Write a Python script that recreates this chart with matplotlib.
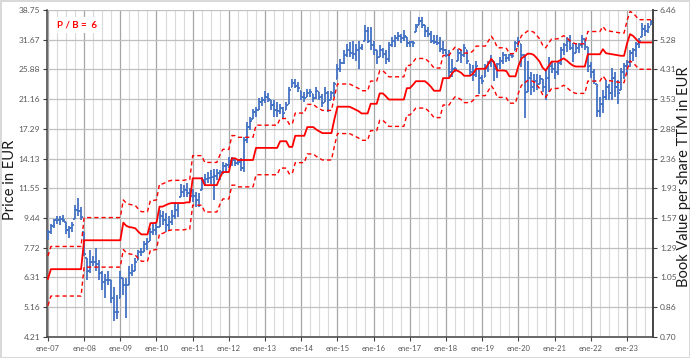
import numpy as np
import matplotlib
matplotlib.use("Agg")
import matplotlib.pyplot as plt
from matplotlib.ticker import FixedLocator, NullLocator, NullFormatter

plt.rcParams["font.family"] = ["Lato", "DejaVu Sans"]

BLUE = "#4472C4"
RED = "#FF0000"

PB_CENTER = 6
PB_LOW, PB_HIGH = 5, 7

# monthly bars, ene-07 .. sep-23 (one row per year)
highs = [
    8.7, 9.05, 9.4, 9.6, 9.55, 9.65, 9.2, 8.95, 9.2, 10.3, 10.85, 10.2,
    8.6, 7.2, 7.6, 7.3, 7.7, 7.1, 6.6, 6.45, 6.6, 6.2, 5.9, 5.6,
    6.6, 6.3, 6.3, 6.8, 6.9, 7.2, 7.6, 7.7, 8.1, 8.25, 8.85, 9.1,
    9.1, 10.0, 9.9, 9.8, 9.6, 10.0, 10.5, 10.4, 11.9, 11.8, 12.0, 11.6,
    11.5, 11.3, 11.2, 12.5, 12.7, 12.9, 13.1, 13.2, 13.2, 13.1, 13.8, 13.7,
    14.3, 14.3, 14.1, 14.0, 14.2, 16.4, 18.1, 18.7, 19.8, 20.0, 21.3, 21.4,
    22.3, 22.0, 21.0, 21.0, 20.7, 20.5, 20.0, 20.7, 22.9, 24.3, 24.3, 23.8,
    22.4, 22.2, 22.7, 22.7, 21.9, 23.0, 22.2, 21.9, 22.9, 22.4, 22.4, 23.8,
    26.9, 27.8, 29.5, 30.8, 31.2, 31.5, 30.8, 31.5, 30.8, 34.9, 34.5, 34.5,
    31.5, 29.5, 30.5, 30.0, 29.5, 31.2, 32.3, 32.6, 33.4, 33.0, 33.8, 32.3,
    31.5, 31.5, 35.3, 37.0, 37.0, 34.9, 34.5, 33.5, 32.6, 32.6, 32.3, 31.5,
    29.8, 29.5, 27.8, 26.3, 29.8, 29.5, 30.8, 29.5, 26.9, 26.6, 27.5, 25.7,
    24.9, 26.9, 27.5, 28.5, 27.5, 27.0, 28.2, 29.1, 28.8, 28.8, 28.8, 31.5,
    32.3, 30.8, 28.5, 27.5, 25.4, 25.1, 25.1, 24.9, 24.3, 26.0, 28.2, 27.3,
    27.0, 27.5, 30.2, 31.0, 32.3, 32.7, 30.9, 30.9, 30.9, 32.7, 31.9, 30.2,
    27.3, 26.0, 23.5, 21.5, 22.5, 24.1, 23.5, 26.1, 25.5, 24.1, 26.1, 27.0,
    27.6, 29.5, 30.0, 31.2, 32.0, 35.4, 35.0, 35.4, 36.2,
]
lows = [
    8.15, 8.45, 8.8, 9.05, 9.0, 9.2, 8.45, 8.25, 8.6, 9.4, 9.6, 9.3,
    7.3, 6.2, 6.5, 6.8, 6.6, 6.2, 5.8, 5.5, 6.0, 5.3, 4.7, 4.75,
    5.5, 5.6, 4.8, 6.0, 6.35, 6.6, 7.1, 7.3, 7.5, 7.6, 8.1, 8.4,
    8.4, 8.9, 9.0, 8.6, 8.7, 9.0, 9.4, 9.5, 10.9, 10.9, 10.9, 10.6,
    10.5, 10.2, 10.2, 11.4, 11.7, 12.0, 11.9, 10.7, 12.2, 12.2, 12.7, 12.8,
    13.3, 13.4, 13.4, 13.5, 13.0, 12.9, 15.7, 17.2, 18.5, 18.7, 19.7, 20.2,
    20.6, 20.8, 19.6, 18.7, 18.7, 19.1, 18.5, 19.6, 20.5, 22.9, 22.8, 22.2,
    21.0, 20.7, 21.4, 21.5, 20.7, 21.2, 21.0, 20.0, 20.7, 19.4, 21.0, 21.4,
    24.3, 25.4, 26.9, 28.2, 28.2, 27.8, 27.5, 26.0, 29.5, 31.5, 31.0, 29.5,
    28.5, 26.9, 28.2, 28.0, 26.9, 27.2, 30.1, 30.1, 31.5, 31.0, 31.5, 30.1,
    30.1, 30.1, 33.4, 35.0, 34.2, 32.3, 32.3, 31.0, 30.8, 30.5, 29.1, 28.8,
    28.2, 24.6, 24.6, 25.4, 27.5, 27.0, 28.2, 26.9, 24.9, 24.0, 24.6, 21.9,
    23.5, 24.6, 25.5, 26.3, 24.0, 24.5, 26.0, 26.9, 27.2, 27.4, 28.0, 29.5,
    30.1, 26.3, 18.6, 22.2, 21.7, 22.2, 22.5, 23.5, 22.2, 21.0, 22.2, 25.2,
    24.3, 25.0, 26.6, 28.5, 29.2, 29.5, 27.3, 28.9, 28.9, 29.9, 29.5, 25.5,
    24.5, 23.5, 18.7, 18.7, 19.2, 21.0, 21.0, 21.0, 21.5, 20.5, 22.5, 24.3,
    25.0, 26.4, 27.5, 28.2, 30.0, 32.3, 32.5, 33.1, 35.0,
]
closes = [
    8.6, 8.95, 9.3, 9.3, 9.4, 9.3, 8.7, 8.8, 9.0, 10.0, 9.9, 9.5,
    7.4, 6.6, 7.0, 7.0, 6.9, 6.5, 6.1, 6.2, 6.2, 5.5, 5.0, 5.0,
    6.3, 6.0, 6.0, 6.5, 6.6, 7.0, 7.5, 7.5, 7.9, 8.0, 8.6, 8.7,
    8.9, 9.6, 9.3, 9.0, 9.2, 9.6, 10.0, 10.2, 11.3, 11.4, 11.2, 11.0,
    11.0, 10.7, 10.9, 12.2, 12.3, 12.4, 12.5, 12.6, 12.8, 12.9, 13.4, 13.5,
    13.9, 14.0, 13.7, 13.8, 13.3, 16.0, 17.5, 18.3, 19.4, 19.6, 20.8, 21.0,
    21.5, 21.2, 20.3, 19.7, 19.5, 19.9, 19.3, 20.4, 22.5, 23.6, 23.2, 22.8,
    21.5, 21.3, 22.0, 22.2, 21.3, 22.4, 21.5, 20.6, 22.0, 21.0, 22.0, 23.4,
    26.0, 27.0, 28.6, 29.5, 29.0, 28.8, 29.5, 30.0, 30.2, 33.5, 31.5, 30.5,
    29.5, 28.0, 29.5, 28.8, 27.8, 30.5, 31.5, 32.0, 32.5, 32.0, 32.5, 31.0,
    31.2, 31.0, 34.5, 36.0, 35.0, 33.5, 33.0, 31.5, 31.2, 31.0, 29.8, 29.5,
    28.6, 25.5, 26.0, 26.0, 29.0, 28.5, 30.0, 27.5, 25.5, 24.9, 26.5, 24.5,
    24.0, 26.2, 27.0, 27.5, 26.0, 26.8, 27.5, 28.5, 28.0, 28.5, 28.3, 31.0,
    31.5, 28.5, 22.0, 24.5, 23.0, 24.0, 23.5, 24.3, 23.0, 24.5, 26.5, 26.0,
    25.5, 27.0, 29.5, 30.5, 31.5, 30.0, 28.5, 30.0, 30.5, 31.8, 30.5, 26.5,
    25.5, 24.0, 19.5, 20.5, 21.5, 23.0, 22.0, 24.5, 23.0, 22.0, 25.5, 26.5,
    27.2, 29.0, 29.5, 30.8, 31.5, 34.0, 33.5, 34.5, 35.8,
]

# book value per share TTM (EUR)
bvps = [
    1.042, 1.112, 1.112, 1.112, 1.112, 1.112, 1.112, 1.112, 1.112, 1.112, 1.112, 1.112,
    1.353, 1.353, 1.353, 1.353, 1.353, 1.353, 1.353, 1.353, 1.353, 1.353, 1.353, 1.353,
    1.353, 1.525, 1.492, 1.48, 1.475, 1.467, 1.433, 1.408, 1.408, 1.408, 1.52, 1.52,
    1.525, 1.70, 1.70, 1.717, 1.733, 1.742, 1.742, 1.742, 1.742, 1.742, 1.75, 1.75,
    2.06, 2.06, 2.06, 2.06, 1.967, 1.967, 1.967, 1.967, 1.967, 2.067, 2.15, 2.15,
    2.15, 2.36, 2.36, 2.333, 2.333, 2.333, 2.333, 2.333, 2.333, 2.533, 2.533, 2.533,
    2.533, 2.533, 2.533, 2.533, 2.533, 2.65, 2.65, 2.65, 2.55, 2.55, 2.75, 2.75,
    2.75, 2.75, 2.917, 2.917, 2.917, 2.867, 2.833, 2.8, 2.8, 2.8, 2.8, 3.083,
    3.35, 3.35, 3.35, 3.35, 3.35, 3.317, 3.283, 3.25, 3.2, 3.2, 3.2, 3.417,
    3.417, 3.417, 3.667, 3.667, 3.6, 3.517, 3.517, 3.517, 3.517, 3.517, 3.517, 3.8,
    3.8, 3.883, 3.983, 3.983, 3.983, 3.983, 3.917, 3.833, 3.733, 3.733, 3.733, 4.067,
    4.067, 4.067, 4.2, 4.3, 4.267, 4.217, 4.133, 4.133, 4.133, 4.2, 4.333, 4.333,
    4.333, 4.333, 4.483, 4.633, 4.5, 4.283, 4.283, 4.283, 4.267, 4.117, 4.117, 4.117,
    4.417, 4.65, 4.717, 4.8, 4.8, 4.767, 4.667, 4.55, 4.367, 4.283, 4.417, 4.55,
    4.55, 4.55, 4.6, 4.65, 4.583, 4.5, 4.433, 4.4, 4.4, 4.4, 4.4, 4.783,
    4.783, 4.783, 4.783, 4.783, 4.95, 4.817, 4.8, 4.783, 4.767, 4.75, 4.733, 4.733,
    5.15, 5.483, 5.417, 5.3, 5.183, 5.183, 5.183, 5.183, 5.183,
]

price_ticks = [4.21, 5.16, 6.31, 7.72, 9.44, 11.55, 14.13, 17.29, 21.16, 25.88, 31.67, 38.75]
bv_tick_labels = ["0.70", "0.86", "1.05", "1.29", "1.57", "1.93", "2.36", "2.88",
                  "3.53", "4.31", "5.28", "6.46"]
year_labels = ["ene-07", "ene-08", "ene-09", "ene-10", "ene-11", "ene-12", "ene-13",
               "ene-14", "ene-15", "ene-16", "ene-17", "ene-18", "ene-19", "ene-20",
               "ene-21", "ene-22", "ene-23"]

highs = np.array(highs)
lows = np.array(lows)
closes = np.array(closes)
bvps = np.array(bvps)
x = np.arange(len(closes))
opens = np.clip(np.r_[closes[0], closes[:-1]], lows, highs)

fig = plt.figure(figsize=(6.9, 3.58), dpi=100)
fig.patch.set_facecolor("white")
fig.patch.set_edgecolor("#d9d9d9")
fig.patch.set_linewidth(2)

ax = fig.add_axes([47 / 690, 21 / 358, 606 / 690, 327 / 358])
ax.set_yscale("log")
ax.set_ylim(price_ticks[0], price_ticks[-1])
ax.set_xlim(-0.3, len(x) - 0.4)

# grid
ax.set_axisbelow(True)
ax.yaxis.set_major_locator(FixedLocator(price_ticks))
ax.yaxis.set_minor_locator(NullLocator())
ax.yaxis.set_minor_formatter(NullFormatter())
ax.set_yticklabels([f"{v:.2f}" for v in price_ticks])
ax.set_xticks(np.arange(len(year_labels)) * 12)
ax.set_xticklabels(year_labels)
ax.set_xticks(np.arange(0, len(x), 3), minor=True)
ax.grid(axis="y", which="major", color="#c0c0c0", lw=0.9)
ax.grid(axis="x", which="major", color="#a6a6a6", lw=0.9)
ax.grid(axis="x", which="minor", color="#dadada", lw=0.8)

# price bars
ax.vlines(x, lows, highs, color=BLUE, lw=1.3, zorder=3)
ax.hlines(opens, x - 0.55, x, color=BLUE, lw=1.3, zorder=3)
ax.hlines(closes, x, x + 0.55, color=BLUE, lw=1.3, zorder=3)

# P/B lines
ax.plot(x, bvps * PB_HIGH, color=RED, lw=1.0, ls=(0, (3, 2.2)), zorder=4)
ax.plot(x, bvps * PB_LOW, color=RED, lw=1.0, ls=(0, (3, 2.2)), zorder=4)
ax.plot(x, bvps * PB_CENTER, color=RED, lw=1.3, zorder=4)

ax.text(0.017, 0.953, f"P / B =  {PB_CENTER}", transform=ax.transAxes, color=RED,
        fontsize=7, fontweight="bold", va="center", ha="left", zorder=5,
        bbox=dict(facecolor="white", edgecolor="none", pad=2.5))

for side in ["left", "bottom", "right"]:
    ax.spines[side].set_color("#404040")
    ax.spines[side].set_linewidth(1.1)
ax.spines["top"].set_visible(False)
ax.tick_params(axis="y", which="major", direction="out", length=3, width=0.8,
               color="#404040", labelsize=6, labelcolor="#595959", pad=2)
ax.tick_params(axis="x", which="major", direction="out", length=3, width=0.8,
               color="#404040", labelsize=5.5, labelcolor="#595959", pad=3)
ax.tick_params(axis="x", which="minor", length=0)
ax.set_ylabel("Price in EUR", fontsize=10.5, color="#1a1a1a")
ax.yaxis.set_label_coords(-0.05, 0.48)

# right axis: book value per share
ax2 = ax.twinx()
ax2.set_yscale("log")
ax2.set_ylim(price_ticks[0] / PB_CENTER, price_ticks[-1] / PB_CENTER)
ax2.yaxis.set_major_locator(FixedLocator([v / PB_CENTER for v in price_ticks]))
ax2.yaxis.set_minor_locator(NullLocator())
ax2.yaxis.set_minor_formatter(NullFormatter())
ax2.set_yticklabels(bv_tick_labels)
for side in ["left", "bottom", "top"]:
    ax2.spines[side].set_visible(False)
ax2.spines["right"].set_color("#404040")
ax2.spines["right"].set_linewidth(1.1)
ax2.tick_params(axis="y", direction="out", length=3, width=0.8, color="#404040",
                labelsize=6, labelcolor="#595959", pad=2)
ax2.set_ylabel("Book Value per share TTM in EUR", fontsize=10.5, color="#1a1a1a")
ax2.yaxis.set_label_coords(1.039, 0.49)

fig.savefig("out.png", dpi=100)
